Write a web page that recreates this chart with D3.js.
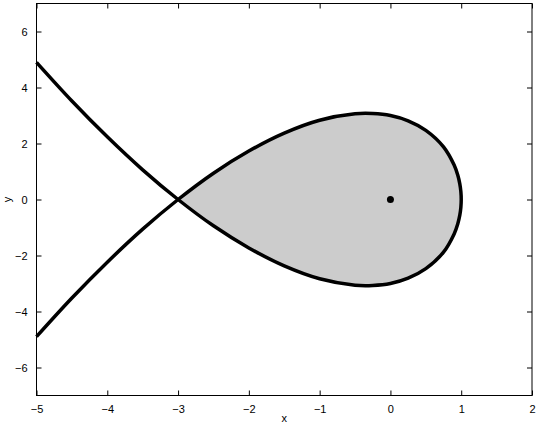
<!DOCTYPE html>
<html>
<head>
<meta charset="utf-8">
<script src="https://cdn.jsdelivr.net/npm/d3@7"></script>
<style>
body{margin:0;background:#fff;}
text{font-family:"Liberation Sans",Arial,Helvetica,sans-serif;}
</style>
</head>
<body>
<div id="graph"></div>
<script>
// points, one branch at a time
var xs       = [-5, -4.5, -4, -3.5, -3, -2.5, -2, -1.5, -1, -0.5, -0.25, 0, 0.25, 0.5, 0.75, 0.9, 0.95, 0.98, 0.995, 1];
var branchUp = [-4.90, -3.52, -2.24, -1.06, 0, 0.94, 1.73, 2.37, 2.83, 3.06, 3.07, 3.00, 2.81, 2.47, 1.88, 1.23, 0.88, 0.56, 0.28, 0];
var branchDn = [4.90, 3.52, 2.24, 1.06, 0, -0.94, -1.73, -2.37, -2.83, -3.06, -3.07, -3.00, -2.81, -2.47, -1.88, -1.23, -0.88, -0.56, -0.28, 0];
var marker   = [[0, 0]];
var xTicks   = [-5, -4, -3, -2, -1, 0, 1, 2];
var yTicks   = [-6, -4, -2, 0, 2, 4, 6];

var true_width = 540, true_height = 427,
    margin = {top:3.5, left:36.5, right:8, bottom:31.5},
    width  = true_width - margin.left - margin.right,
    height = true_height - margin.top - margin.bottom;

var x = d3.scaleLinear().domain([-5, 2]).range([0, width]);
var y = d3.scaleLinear().domain([-7, 7]).range([height, 0]);

var svg = d3.select('#graph').append('svg')
    .attr('width', true_width)
    .attr('height', true_height);
var g = svg.append('g')
    .attr('transform', 'translate(' + margin.left + ',' + margin.top + ')');

// go out along one branch, round the tip at x=1, back along the other
var up = xs.map(function(d, i){ return [d, branchUp[i]]; });
var dn = xs.map(function(d, i){ return [d, branchDn[i]]; }).reverse().slice(1);
var curvePts = up.concat(dn);
var loopPts = curvePts.filter(function(d){ return d[0] >= -3; });

var line = d3.line()
    .x(function(d){ return x(d[0]); })
    .y(function(d){ return y(d[1]); })
    .curve(d3.curveCatmullRom);

g.append('path')
    .datum(loopPts)
    .attr('fill', '#cccccc')
    .attr('d', line);

g.append('path')
    .datum(curvePts)
    .attr('fill', 'none')
    .attr('stroke', '#000')
    .attr('stroke-width', 3.5)
    .attr('stroke-linejoin', 'round')
    .attr('d', line);

g.selectAll('.dot').data(marker).enter().append('circle')
    .attr('cx', function(d){ return x(d[0]); })
    .attr('cy', function(d){ return y(d[1]); })
    .attr('r', 3.5)
    .attr('fill', '#000');

// axes, ticks inside, box on all sides
function styleAxis(sel){
    sel.select('.domain').remove();
    sel.selectAll('line').attr('stroke', '#000').attr('stroke-width', 1);
    sel.selectAll('text').attr('font-size', 11).attr('fill', '#000');
}
var fmt = function(d){ return d < 0 ? '\u2212' + Math.abs(d) : d; };

g.append('g').attr('transform', 'translate(0,' + height + ')')
    .call(d3.axisBottom(x).tickValues(xTicks).tickSizeInner(-5).tickSizeOuter(0).tickPadding(10).tickFormat(fmt))
    .call(styleAxis);
g.append('g')
    .call(d3.axisTop(x).tickValues(xTicks).tickSizeInner(-5).tickSizeOuter(0).tickFormat(''))
    .call(styleAxis);
g.append('g')
    .call(d3.axisLeft(y).tickValues(yTicks).tickSizeInner(-5).tickSizeOuter(0).tickPadding(9).tickFormat(fmt))
    .call(styleAxis);
g.append('g').attr('transform', 'translate(' + width + ',0)')
    .call(d3.axisRight(y).tickValues(yTicks).tickSizeInner(-5).tickSizeOuter(0).tickFormat(''))
    .call(styleAxis);

g.append('rect')
    .attr('width', width).attr('height', height)
    .attr('fill', 'none').attr('stroke', '#000').attr('stroke-width', 1);

svg.append('text')
    .attr('x', margin.left + width / 2)
    .attr('y', 422)
    .attr('text-anchor', 'middle')
    .attr('font-size', 11)
    .text('x');
svg.append('text')
    .attr('transform', 'translate(11,' + (margin.top + height / 2) + ') rotate(-90)')
    .attr('text-anchor', 'middle')
    .attr('font-size', 11)
    .text('y');
</script>
</body>
</html>
